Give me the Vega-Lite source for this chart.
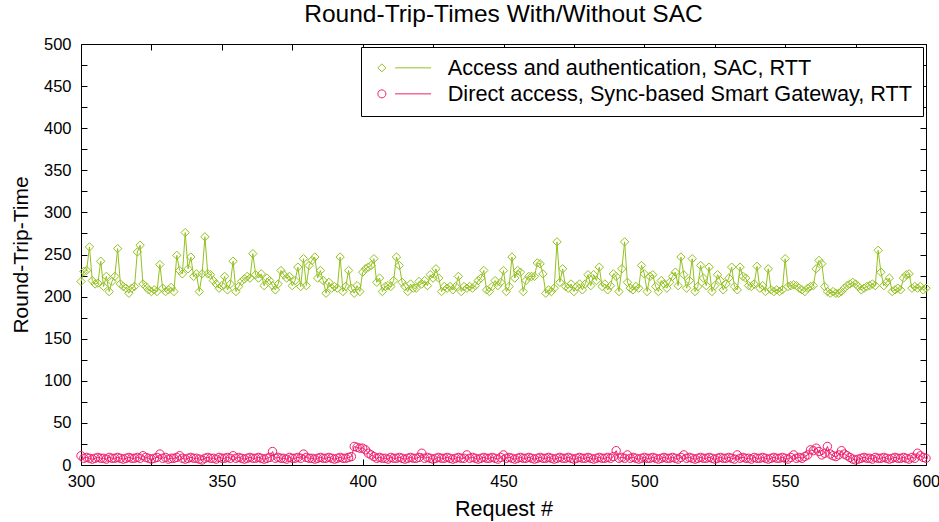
{
"$schema": "https://vega.github.io/schema/vega-lite/v6.json",
"width": 845, "height": 421,
"autosize": {"type": "none"},
"padding": {"left": 81, "top": 44, "right": 13, "bottom": 57},
"background": "white",
"config": {"font": "Liberation Sans", "view": {"stroke": null}},
"title": {"text": "Round-Trip-Times With/Without SAC", "fontSize": 24.5, "fontWeight": "normal", "color": "black", "offset": 9, "anchor": "middle", "font": "Liberation Sans"},
"data": {"values": [
{"n":300,"a":218,"d":11},{"n":301,"a":230,"d":8},{"n":302,"a":231,"d":9},{"n":303,"a":259,"d":8},{"n":304,"a":219,"d":7},{"n":305,"a":215,"d":8},{"n":306,"a":216,"d":9},{"n":307,"a":242,"d":8},{"n":308,"a":212,"d":8},{"n":309,"a":224,"d":7},
{"n":310,"a":206,"d":9},{"n":311,"a":218,"d":8},{"n":312,"a":224,"d":8},{"n":313,"a":257,"d":9},{"n":314,"a":215,"d":8},{"n":315,"a":212,"d":7},{"n":316,"a":210,"d":8},{"n":317,"a":204,"d":9},{"n":318,"a":210,"d":8},{"n":319,"a":212,"d":8},
{"n":320,"a":253,"d":9},{"n":321,"a":261,"d":8},{"n":322,"a":215,"d":11},{"n":323,"a":212,"d":9},{"n":324,"a":208,"d":8},{"n":325,"a":206,"d":7},{"n":326,"a":208,"d":8},{"n":327,"a":206,"d":9},{"n":328,"a":238,"d":13},{"n":329,"a":210,"d":8},
{"n":330,"a":206,"d":9},{"n":331,"a":208,"d":7},{"n":332,"a":211,"d":8},{"n":333,"a":206,"d":8},{"n":334,"a":249,"d":9},{"n":335,"a":231,"d":11},{"n":336,"a":227,"d":8},{"n":337,"a":276,"d":7},{"n":338,"a":233,"d":8},{"n":339,"a":247,"d":9},
{"n":340,"a":224,"d":8},{"n":341,"a":227,"d":8},{"n":342,"a":206,"d":7},{"n":343,"a":227,"d":6},{"n":344,"a":271,"d":8},{"n":345,"a":227,"d":9},{"n":346,"a":226,"d":8},{"n":347,"a":219,"d":8},{"n":348,"a":215,"d":7},{"n":349,"a":210,"d":9},
{"n":350,"a":213,"d":8},{"n":351,"a":224,"d":8},{"n":352,"a":208,"d":9},{"n":353,"a":215,"d":8},{"n":354,"a":242,"d":11},{"n":355,"a":206,"d":8},{"n":356,"a":212,"d":9},{"n":357,"a":218,"d":8},{"n":358,"a":221,"d":7},{"n":359,"a":224,"d":8},
{"n":360,"a":222,"d":9},{"n":361,"a":251,"d":8},{"n":362,"a":226,"d":8},{"n":363,"a":222,"d":9},{"n":364,"a":227,"d":8},{"n":365,"a":213,"d":7},{"n":366,"a":222,"d":8},{"n":367,"a":219,"d":9},{"n":368,"a":213,"d":16},{"n":369,"a":208,"d":8},
{"n":370,"a":215,"d":9},{"n":371,"a":231,"d":8},{"n":372,"a":226,"d":8},{"n":373,"a":222,"d":7},{"n":374,"a":224,"d":9},{"n":375,"a":213,"d":8},{"n":376,"a":219,"d":8},{"n":377,"a":235,"d":9},{"n":378,"a":212,"d":8},{"n":379,"a":245,"d":13},
{"n":380,"a":213,"d":9},{"n":381,"a":237,"d":8},{"n":382,"a":243,"d":8},{"n":383,"a":247,"d":7},{"n":384,"a":222,"d":8},{"n":385,"a":231,"d":9},{"n":386,"a":219,"d":8},{"n":387,"a":204,"d":8},{"n":388,"a":217,"d":9},{"n":389,"a":210,"d":8},
{"n":390,"a":212,"d":7},{"n":391,"a":210,"d":8},{"n":392,"a":247,"d":9},{"n":393,"a":206,"d":8},{"n":394,"a":212,"d":8},{"n":395,"a":231,"d":9},{"n":396,"a":210,"d":10},{"n":397,"a":204,"d":22},{"n":398,"a":213,"d":21},{"n":399,"a":206,"d":20},
{"n":400,"a":229,"d":20},{"n":401,"a":233,"d":18},{"n":402,"a":235,"d":14},{"n":403,"a":237,"d":12},{"n":404,"a":245,"d":10},{"n":405,"a":217,"d":8},{"n":406,"a":222,"d":9},{"n":407,"a":206,"d":8},{"n":408,"a":212,"d":8},{"n":409,"a":213,"d":7},
{"n":410,"a":212,"d":9},{"n":411,"a":219,"d":8},{"n":412,"a":247,"d":8},{"n":413,"a":237,"d":9},{"n":414,"a":217,"d":8},{"n":415,"a":212,"d":7},{"n":416,"a":206,"d":8},{"n":417,"a":215,"d":9},{"n":418,"a":210,"d":8},{"n":419,"a":210,"d":8},
{"n":420,"a":218,"d":9},{"n":421,"a":215,"d":14},{"n":422,"a":219,"d":8},{"n":423,"a":213,"d":9},{"n":424,"a":226,"d":8},{"n":425,"a":222,"d":7},{"n":426,"a":233,"d":8},{"n":427,"a":222,"d":9},{"n":428,"a":206,"d":8},{"n":429,"a":212,"d":8},
{"n":430,"a":210,"d":9},{"n":431,"a":212,"d":8},{"n":432,"a":208,"d":7},{"n":433,"a":212,"d":8},{"n":434,"a":224,"d":9},{"n":435,"a":206,"d":8},{"n":436,"a":212,"d":8},{"n":437,"a":210,"d":12},{"n":438,"a":212,"d":8},{"n":439,"a":210,"d":9},
{"n":440,"a":213,"d":8},{"n":441,"a":219,"d":7},{"n":442,"a":222,"d":8},{"n":443,"a":231,"d":9},{"n":444,"a":208,"d":8},{"n":445,"a":206,"d":8},{"n":446,"a":212,"d":9},{"n":447,"a":219,"d":8},{"n":448,"a":213,"d":7},{"n":449,"a":217,"d":9},
{"n":450,"a":231,"d":12},{"n":451,"a":206,"d":8},{"n":452,"a":212,"d":9},{"n":453,"a":247,"d":8},{"n":454,"a":222,"d":7},{"n":455,"a":231,"d":8},{"n":456,"a":229,"d":9},{"n":457,"a":206,"d":8},{"n":458,"a":219,"d":8},{"n":459,"a":224,"d":9},
{"n":460,"a":224,"d":8},{"n":461,"a":224,"d":7},{"n":462,"a":240,"d":8},{"n":463,"a":239,"d":9},{"n":464,"a":227,"d":8},{"n":465,"a":204,"d":8},{"n":466,"a":208,"d":9},{"n":467,"a":206,"d":8},{"n":468,"a":210,"d":7},{"n":469,"a":265,"d":8},
{"n":470,"a":217,"d":9},{"n":471,"a":233,"d":8},{"n":472,"a":212,"d":8},{"n":473,"a":210,"d":9},{"n":474,"a":215,"d":8},{"n":475,"a":206,"d":7},{"n":476,"a":212,"d":8},{"n":477,"a":215,"d":9},{"n":478,"a":208,"d":8},{"n":479,"a":215,"d":8},
{"n":480,"a":226,"d":9},{"n":481,"a":213,"d":8},{"n":482,"a":226,"d":7},{"n":483,"a":219,"d":8},{"n":484,"a":235,"d":9},{"n":485,"a":212,"d":8},{"n":486,"a":215,"d":8},{"n":487,"a":208,"d":9},{"n":488,"a":213,"d":8},{"n":489,"a":227,"d":10},
{"n":490,"a":224,"d":17},{"n":491,"a":206,"d":8},{"n":492,"a":233,"d":9},{"n":493,"a":265,"d":8},{"n":494,"a":217,"d":12},{"n":495,"a":210,"d":8},{"n":496,"a":208,"d":9},{"n":497,"a":212,"d":8},{"n":498,"a":210,"d":7},{"n":499,"a":237,"d":8},
{"n":500,"a":227,"d":9},{"n":501,"a":206,"d":8},{"n":502,"a":224,"d":8},{"n":503,"a":226,"d":9},{"n":504,"a":212,"d":8},{"n":505,"a":206,"d":7},{"n":506,"a":219,"d":8},{"n":507,"a":215,"d":9},{"n":508,"a":210,"d":8},{"n":509,"a":217,"d":8},
{"n":510,"a":224,"d":9},{"n":511,"a":229,"d":8},{"n":512,"a":213,"d":7},{"n":513,"a":247,"d":9},{"n":514,"a":226,"d":12},{"n":515,"a":210,"d":8},{"n":516,"a":219,"d":9},{"n":517,"a":245,"d":8},{"n":518,"a":206,"d":7},{"n":519,"a":212,"d":8},
{"n":520,"a":237,"d":9},{"n":521,"a":222,"d":8},{"n":522,"a":213,"d":8},{"n":523,"a":235,"d":9},{"n":524,"a":206,"d":8},{"n":525,"a":213,"d":7},{"n":526,"a":226,"d":8},{"n":527,"a":219,"d":9},{"n":528,"a":208,"d":8},{"n":529,"a":215,"d":8},
{"n":530,"a":222,"d":9},{"n":531,"a":235,"d":8},{"n":532,"a":212,"d":7},{"n":533,"a":208,"d":12},{"n":534,"a":235,"d":8},{"n":535,"a":224,"d":9},{"n":536,"a":222,"d":8},{"n":537,"a":213,"d":8},{"n":538,"a":212,"d":7},{"n":539,"a":215,"d":9},
{"n":540,"a":236,"d":8},{"n":541,"a":210,"d":8},{"n":542,"a":213,"d":9},{"n":543,"a":206,"d":8},{"n":544,"a":233,"d":7},{"n":545,"a":208,"d":8},{"n":546,"a":206,"d":9},{"n":547,"a":208,"d":8},{"n":548,"a":206,"d":8},{"n":549,"a":208,"d":9},
{"n":550,"a":245,"d":8},{"n":551,"a":212,"d":7},{"n":552,"a":213,"d":9},{"n":553,"a":214,"d":12},{"n":554,"a":213,"d":8},{"n":555,"a":210,"d":9},{"n":556,"a":208,"d":8},{"n":557,"a":206,"d":10},{"n":558,"a":210,"d":12},{"n":559,"a":212,"d":18},
{"n":560,"a":213,"d":17},{"n":561,"a":233,"d":20},{"n":562,"a":243,"d":16},{"n":563,"a":239,"d":12},{"n":564,"a":212,"d":14},{"n":565,"a":206,"d":22},{"n":566,"a":204,"d":13},{"n":567,"a":206,"d":11},{"n":568,"a":204,"d":10},{"n":569,"a":204,"d":12},
{"n":570,"a":206,"d":17},{"n":571,"a":210,"d":13},{"n":572,"a":213,"d":11},{"n":573,"a":215,"d":9},{"n":574,"a":217,"d":7},{"n":575,"a":215,"d":6},{"n":576,"a":212,"d":7},{"n":577,"a":208,"d":8},{"n":578,"a":210,"d":9},{"n":579,"a":212,"d":8},
{"n":580,"a":213,"d":8},{"n":581,"a":215,"d":7},{"n":582,"a":213,"d":9},{"n":583,"a":255,"d":8},{"n":584,"a":229,"d":8},{"n":585,"a":213,"d":9},{"n":586,"a":217,"d":8},{"n":587,"a":222,"d":7},{"n":588,"a":206,"d":8},{"n":589,"a":208,"d":9},
{"n":590,"a":210,"d":8},{"n":591,"a":208,"d":8},{"n":592,"a":222,"d":9},{"n":593,"a":226,"d":8},{"n":594,"a":227,"d":7},{"n":595,"a":210,"d":9},{"n":596,"a":212,"d":8},{"n":597,"a":210,"d":14},{"n":598,"a":212,"d":11},{"n":599,"a":208,"d":9},
{"n":600,"a":210,"d":8}
]},
"transform": [{"fold": ["a", "d"], "as": ["series", "rtt"]}],
"layer": [
{
"mark": {"type": "line", "strokeWidth": 1},
"encoding": {
"x": {"field": "n", "type": "quantitative", "scale": {"domain": [300, 600], "nice": false, "zero": false},
 "axis": {"orient": "bottom", "values": [300,325,350,375,400,425,450,475,500,525,550,575,600], "labelExpr": "datum.value % 50 === 0 ? datum.label : ''", "tickSize": -6, "tickColor": "black", "domainColor": "black", "domainWidth": 1, "labelColor": "black", "labelFontSize": 16.5, "labelPadding": 14, "labelFlush": false, "labelOverlap": false, "grid": false, "title": "Request #", "titleFontSize": 21.5, "titleFontWeight": "normal", "titleColor": "black", "titlePadding": 9}},
"y": {"field": "rtt", "type": "quantitative", "scale": {"domain": [0, 500], "nice": false},
 "axis": {"orient": "left", "values": [0,25,50,75,100,125,150,175,200,225,250,275,300,325,350,375,400,425,450,475,500], "labelExpr": "datum.value % 50 === 0 ? datum.label : ''", "tickSize": -6, "tickColor": "black", "domainColor": "black", "domainWidth": 1, "labelColor": "black", "labelFontSize": 16.5, "labelPadding": 16, "labelFlush": false, "labelOverlap": false, "grid": false, "title": "Round-Trip-Time", "titleFontSize": 21, "titleFontWeight": "normal", "titleColor": "black", "titlePadding": 12}},
"color": {"field": "series", "type": "nominal", "scale": {"domain": ["a", "d"], "range": ["#94c11f", "#f01f6e"]}}
}
},
{
"transform": [{"filter": "datum.series === 'a'"}],
"mark": {"type": "point", "shape": "diamond", "filled": false, "size": 70, "strokeWidth": 1, "opacity": 1},
"encoding": {
"x": {"field": "n", "type": "quantitative", "scale": {"domain": [300, 600], "nice": false, "zero": false},
 "axis": {"orient": "top", "values": [300,325,350,375,400,425,450,475,500,525,550,575,600], "labels": false, "tickSize": -6, "tickColor": "black", "domainColor": "black", "domainWidth": 1, "grid": false, "title": null}},
"y": {"field": "rtt", "type": "quantitative", "scale": {"domain": [0, 500], "nice": false},
 "axis": {"orient": "right", "values": [0,25,50,75,100,125,150,175,200,225,250,275,300,325,350,375,400,425,450,475,500], "labels": false, "tickSize": -6, "tickColor": "black", "domainColor": "black", "domainWidth": 1, "grid": false, "title": null}},
"color": {"field": "series", "type": "nominal", "scale": {"domain": ["a", "d"], "range": ["#94c11f", "#f01f6e"]},
 "legend": {"orient": "top-right", "offset": 3, "title": null,
  "labelExpr": "datum.value === 'a' ? 'Access and authentication, SAC, RTT' : 'Direct access, Sync-based Smart Gateway, RTT'",
  "labelFontSize": 21.7, "labelColor": "black", "labelFont": "Liberation Sans", "labelLimit": 700,
  "symbolSize": 64, "symbolStrokeWidth": 1, "symbolFillColor": "transparent",
  "symbolType": {"expr": "datum.value === 'a' ? 'M-1,0L0,-1L1,0L0,1Z M3.3,0L12.3,0' : 'M-1,0A1,1 0 1,1 1,0A1,1 0 1,1 -1,0Z M3.3,0L12.3,0'"},
  "labelOffset": 55, "padding": 10, "rowPadding": 3,
  "fillColor": "white", "strokeColor": "black", "cornerRadius": 0}}
}
},
{
"transform": [{"filter": "datum.series === 'd'"}],
"mark": {"type": "point", "shape": "circle", "filled": false, "size": 70, "strokeWidth": 1, "opacity": 1},
"encoding": {
"x": {"field": "n", "type": "quantitative", "scale": {"domain": [300, 600], "nice": false, "zero": false}, "axis": null},
"y": {"field": "rtt", "type": "quantitative", "scale": {"domain": [0, 500], "nice": false}, "axis": null},
"color": {"field": "series", "type": "nominal", "scale": {"domain": ["a", "d"], "range": ["#94c11f", "#f01f6e"]}}
}
}
],
"resolve": {"axis": {"x": "independent", "y": "independent"}}
}
